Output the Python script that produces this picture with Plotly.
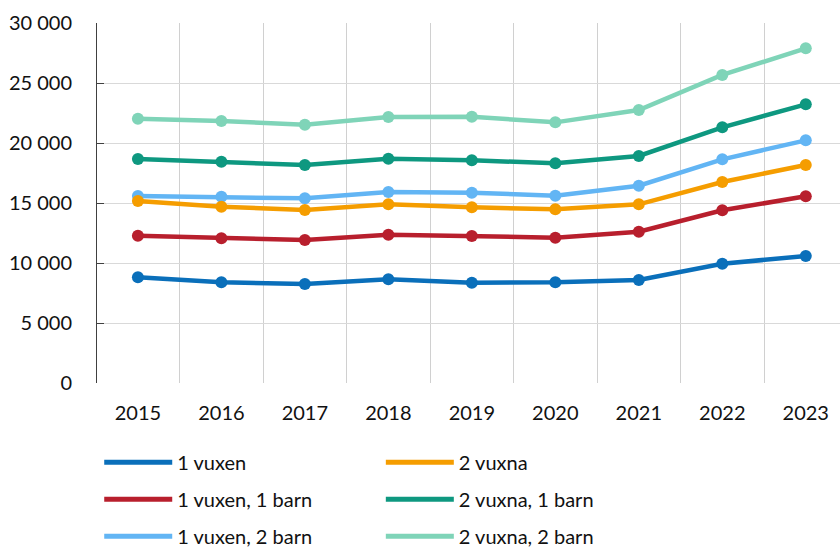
import plotly.graph_objects as go

years = ["2015", "2016", "2017", "2018", "2019", "2020", "2021", "2022", "2023"]

v1 = [8810, 8390, 8250, 8640, 8360, 8390, 8580, 9940, 10580]
v1b1 = [12280, 12060, 11920, 12360, 12250, 12110, 12610, 14390, 15560]
v1b2 = [15580, 15530, 15390, 15920, 15860, 15610, 16440, 18640, 20220]
v2 = [15170, 14690, 14420, 14890, 14640, 14470, 14890, 16750, 18170]
v2b1 = [18670, 18440, 18170, 18690, 18560, 18310, 18920, 21310, 23220]
v2b2 = [22030, 21830, 21530, 22170, 22190, 21720, 22750, 25670, 27890]

names = ["1 vuxen", "1 vuxen, 1 barn", "1 vuxen, 2 barn",
         "2 vuxna", "2 vuxna, 1 barn", "2 vuxna, 2 barn"]
series = [v1, v1b1, v1b2, v2, v2b1, v2b2]
colors = ["#0A6FBA", "#B81F2D", "#62B5F4", "#F59D00", "#0E9880", "#7FD4B8"]
legends = ["legend", "legend", "legend", "legend2", "legend2", "legend2"]

FONT = "Lato"
TXT = "#111111"

fig = go.Figure()
for name, vals, col in zip(names, series, colors):
    fig.add_trace(go.Scatter(
        x=years, y=vals, mode="lines+markers", name=name,
        line=dict(color=col, width=4.5),
        marker=dict(color=col, size=12),
        showlegend=False, hoverinfo="skip",
    ))
for i, (name, col, lg) in enumerate(zip(names, colors, legends)):
    fig.add_trace(go.Scatter(
        x=[None], y=[None], mode="lines", name=name,
        line=dict(color=col, width=5),
        legend=lg, legendgroup=f"g{i}", showlegend=True,
    ))

fig.update_layout(
    width=840, height=548,
    margin=dict(l=97, r=0, t=23, b=165, autoexpand=False),
    paper_bgcolor="white", plot_bgcolor="white",
    font=dict(family=FONT, size=20, color=TXT),
    separators=", ",
    showlegend=True,
    legend=dict(
        x=0.003, y=-0.166, xanchor="left", yanchor="top",
        orientation="v", tracegroupgap=8, itemwidth=68,
        font=dict(family=FONT, size=20, color=TXT),
        bgcolor="rgba(0,0,0,0)",
    ),
    legend2=dict(
        x=0.382, y=-0.166, xanchor="left", yanchor="top",
        orientation="v", tracegroupgap=8, itemwidth=68,
        font=dict(family=FONT, size=20, color=TXT),
        bgcolor="rgba(0,0,0,0)",
    ),
)

fig.update_xaxes(
    type="category", range=[-0.49, 8.41],
    tickson="boundaries", ticks="",
    showgrid=True, gridcolor="#D0D0D0", gridwidth=1,
    showline=False, zeroline=False,
    ticklabelstandoff=16,
    tickfont=dict(family=FONT, size=20, color=TXT),
)
fig.update_yaxes(
    range=[0, 30000], dtick=5000, tickformat=",d",
    showgrid=True, gridcolor="#D9D9D9", gridwidth=1,
    showline=True, linecolor="#404040", linewidth=1,
    ticks="inside", ticklen=7, tickcolor="#404040", tickwidth=1,
    zeroline=False,
    ticklabelstandoff=20,
    tickfont=dict(family=FONT, size=20, color=TXT),
)

fig.write_html("out.html")
